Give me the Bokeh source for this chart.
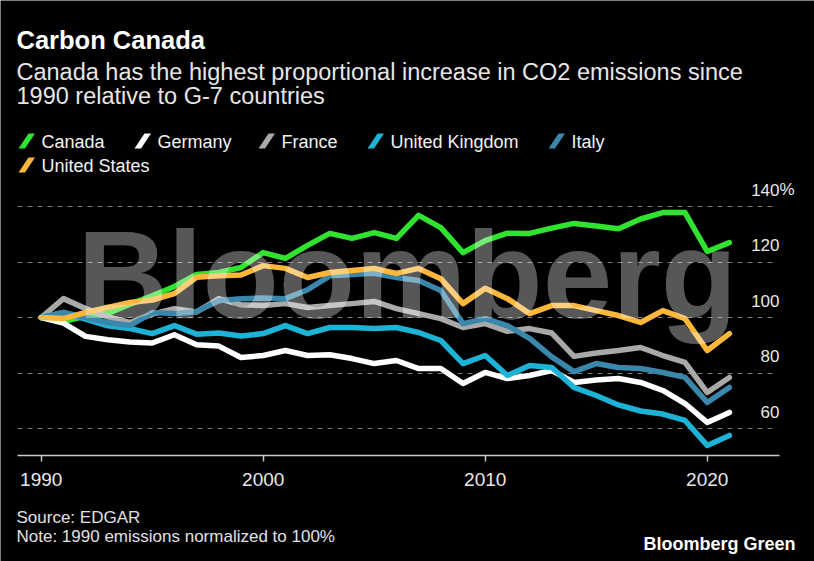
from bokeh.plotting import figure
from bokeh.models import (Label, PolyAnnotation, FixedTicker, Grid, Range1d,
                          ColumnDataSource)
from bokeh.embed import file_html
from bokeh.resources import INLINE

# ---------------- data ----------------
years = list(range(1990, 2022))

canada = [100, 98.5, 100.5, 101.5, 104.8, 107.8, 111.2, 115.5, 116.2, 118.0,
          123.4, 121.3, 126.0, 130.3, 128.5, 130.6, 128.5, 136.8, 132.4, 123.4,
          127.7, 130.4, 130.3, 132.2, 133.9, 133.0, 132.0, 135.5, 137.8, 137.8,
          123.8, 127.0]
germany = [100, 98.0, 93.2, 92.0, 91.2, 90.8, 93.8, 90.2, 89.7, 85.6,
           86.3, 88.1, 86.3, 86.6, 85.2, 83.4, 84.5, 81.6, 81.6, 76.2,
           80.2, 78.0, 79.1, 80.9, 76.6, 77.5, 78.0, 76.6, 73.7, 69.0,
           62.2, 65.8]
france = [100, 106.8, 103.2, 100.2, 98.2, 101.2, 103.2, 102.0, 106.8, 104.6,
          104.3, 105.0, 103.6, 104.3, 105.0, 105.8, 103.2, 101.4, 99.6, 96.4,
          97.8, 95.0, 96.0, 94.4, 86.0, 87.2, 88.1, 89.2, 86.3, 83.8,
          73.0, 78.4]
uk = [100, 101.8, 99.4, 97.0, 96.0, 94.2, 97.1, 94.0, 94.4, 93.3,
      94.2, 97.1, 94.2, 96.4, 96.4, 96.0, 96.4, 94.6, 91.7, 83.4,
      86.3, 79.1, 82.7, 82.0, 74.8, 71.9, 68.5, 66.3, 65.2, 62.9,
      53.9, 57.5]
italy = [100, 101.8, 100.0, 98.2, 97.1, 101.8, 101.4, 102.2, 106.0, 106.8,
         107.0, 106.8, 110.0, 115.0, 115.5, 115.9, 114.4, 113.3, 109.7, 97.8,
         99.6, 97.1, 92.5, 85.8, 80.5, 83.4, 82.0, 81.6, 80.2, 78.4,
         69.4, 74.8]
us = [100, 99.6, 101.8, 103.6, 105.4, 106.3, 108.6, 114.5, 115.0, 115.3,
      118.7, 117.7, 114.4, 116.2, 116.9, 117.7, 115.9, 117.7, 114.0, 105.0,
      110.5, 106.8, 101.4, 104.3, 104.3, 102.5, 100.7, 98.2, 102.5, 99.6,
      88.1, 94.2]

series_names = ["Canada", "Germany", "France", "United Kingdom", "Italy", "United States"]
series_values = [canada, germany, france, uk, italy, us]
series_colors = ["#2fe32f", "#ffffff", "#a9a9a9", "#1db3d6", "#3a87ab", "#fbb73a"]

y_ticks = [60, 80, 100, 120, 140]
y_tick_labels = ["60", "80", "100", "120", "140"]
x_ticks = [1990, 2000, 2010, 2020]

title_text = "Carbon Canada"
subtitle_lines = ["Canada has the highest proportional increase in CO2 emissions since",
                  "1990 relative to G-7 countries"]
footer_lines = ["Source: EDGAR", "Note: 1990 emissions normalized to 100%"]
brand_text = "Bloomberg Green"
watermark_text = "Bloomberg"

# ---------------- layout ----------------
FONT = "Liberation Sans"
W, H = 814, 561
CHART_L, CHART_R, AXIS_Y = 17, 779, 455      # chart area edges (px)
GRID_R = 777
X_REF_PX, Y_REF_PX = 40.7, 317.0             # pixel of (1990, 100)
PX_PER_YEAR = 22.2
PX_PER_UNIT = 2.775

# the frame spans the whole canvas; px -> data helpers
x0 = 1990 - X_REF_PX / PX_PER_YEAR
x1 = 1990 + (W - X_REF_PX) / PX_PER_YEAR
y0 = 100 - (H - Y_REF_PX) / PX_PER_UNIT
y1 = 100 + Y_REF_PX / PX_PER_UNIT


def dx(cx):
    return x0 + cx / PX_PER_YEAR


def dy(cy):
    return y0 + (H - cy) / PX_PER_UNIT


p = figure(width=W, height=H, x_range=Range1d(x0, x1), y_range=Range1d(y0, y1),
           y_axis_location=None, output_backend="svg", toolbar_location=None,
           min_border_left=0, min_border_right=0,
           min_border_top=0, min_border_bottom=0, title=None,
           background_fill_color="black", border_fill_color="black",
           outline_line_color=None)

# drop the default grids, then add a dashed horizontal one
p.center = [r for r in p.center if not isinstance(r, Grid)]
grid_kw = dict(dimension=1, ticker=FixedTicker(ticks=y_ticks),
               grid_line_color="#7a7a7a", grid_line_dash="5 5", grid_line_width=1)
try:
    p.add_layout(Grid(cross_bounds=(dx(CHART_L), dx(GRID_R)), **grid_kw))
except Exception:
    p.segment(x0=[dx(CHART_L)] * len(y_ticks), y0=y_ticks,
              x1=[dx(GRID_R)] * len(y_ticks), y1=y_ticks,
              line_color="#7a7a7a", line_dash="5 5", line_width=1)

ax = p.xaxis[0]
ax.fixed_location = dy(AXIS_Y)
ax.bounds = (dx(CHART_L), dx(CHART_R))
ax.ticker = FixedTicker(ticks=x_ticks)
ax.axis_line_color = "#c8c8c8"
ax.axis_line_width = 1.5
ax.major_tick_line_color = "#c8c8c8"
ax.major_tick_line_width = 1.5
ax.major_tick_in = 0
ax.major_tick_out = 6
ax.minor_tick_line_color = None
ax.major_label_text_color = "#e8e8e8"
ax.major_label_text_font = FONT
ax.major_label_text_font_size = "19px"
ax.major_label_standoff = 11

for name, vals, color in zip(series_names, series_values, series_colors):
    src = ColumnDataSource(dict(x=years, y=vals))
    p.line("x", "y", source=src, line_color=color, line_width=5.5,
           line_join="round", line_cap="round")

# y labels sit just above their gridline, right-aligned at chart edge
LIFT = 17 / PX_PER_UNIT
for t, lab in zip(y_ticks, y_tick_labels):
    p.add_layout(Label(x=dx(CHART_R), y=t + LIFT, text=lab, text_align="right",
                       text_baseline="middle", text_font=FONT,
                       text_font_size="17px", text_color="#e8e8e8"))
p.add_layout(Label(x=dx(CHART_R), y=y_ticks[-1] + LIFT, text="%", text_align="left",
                   text_baseline="middle", text_font=FONT,
                   text_font_size="17px", text_color="#e8e8e8"))

# watermark (drawn above the lines, semi-transparent)
p.add_layout(Label(x=dx(77), y=dy(274), text=watermark_text, text_font=FONT,
                   text_font_style="bold", text_font_size="125px",
                   text_color="white", text_alpha=0.34,
                   text_baseline="middle"))


def add_text(text, cx, cy, size, bold=False, color="#ffffff", align="left"):
    p.add_layout(Label(x=dx(cx), y=dy(cy), text=text, text_font=FONT,
                       text_font_size=f"{size}px",
                       text_font_style="bold" if bold else "normal",
                       text_color=color, text_align=align,
                       text_baseline="alphabetic"))


add_text(title_text, 16, 39, 25.5, bold=True)
add_text(subtitle_lines[0], 16, 71, 23.5, color="#e6e6e6")
add_text(subtitle_lines[1], 16, 95, 23.5, color="#e6e6e6")

legend_pos = [(18, 148), (134, 148), (258, 148), (367, 148), (548, 148), (18, 172)]
for (lx, ly), name, color in zip(legend_pos, series_names, series_colors):
    xs = [lx, lx + 6.5, lx + 16.5, lx + 10]
    ys = [ly, ly, ly - 15, ly - 15]
    p.add_layout(PolyAnnotation(xs=[dx(v) for v in xs], ys=[dy(v) for v in ys],
                                fill_color=color, fill_alpha=1, line_color=None))
    add_text(name, lx + 23, ly - 7, 18, color="#f2f2f2")

add_text(footer_lines[0], 16, 517, 17, color="#e0e0e0")
add_text(footer_lines[1], 16, 536, 17, color="#e0e0e0")
add_text(brand_text, 795, 543, 18, bold=True, align="right")

open("out.html", "w").write(file_html(p, INLINE))
